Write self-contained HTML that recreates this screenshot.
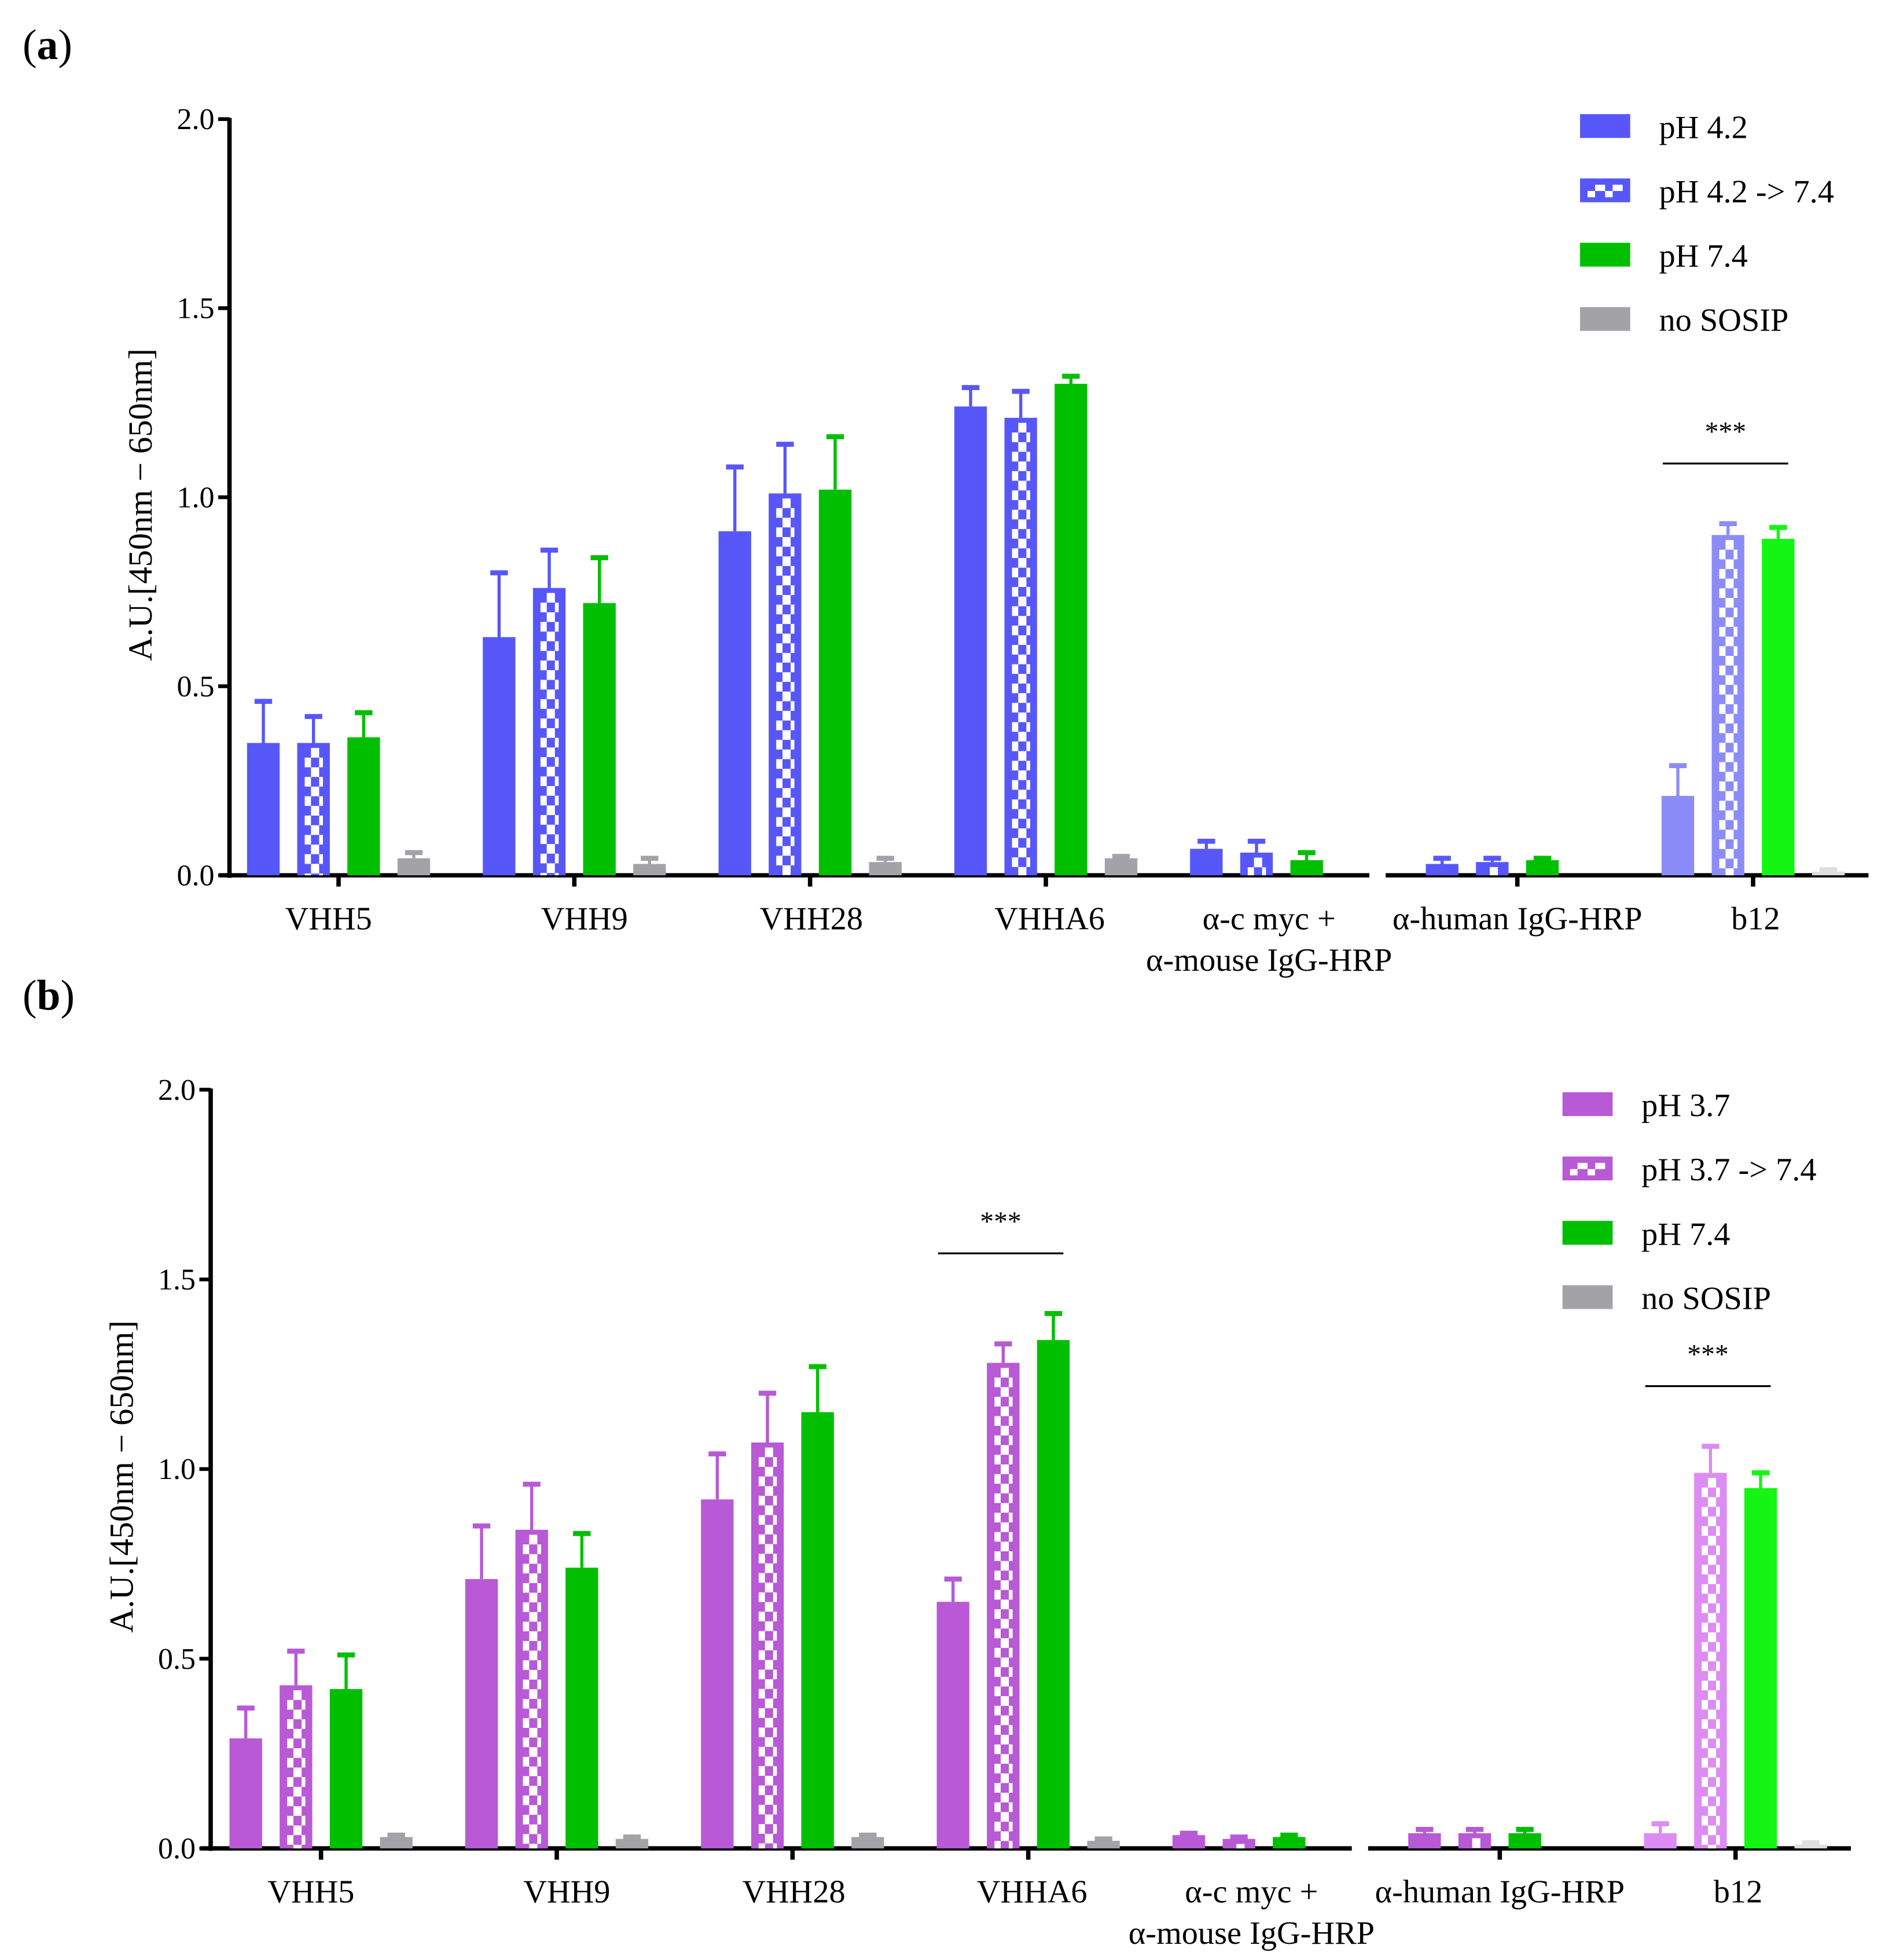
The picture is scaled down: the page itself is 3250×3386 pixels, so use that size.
<!DOCTYPE html>
<html><head><meta charset="utf-8"><style>
html,body{margin:0;padding:0;background:#fff;}
svg{display:block;}
text{font-family:"Liberation Serif",serif;fill:#000;}
</style></head><body>
<svg id="fig" xmlns="http://www.w3.org/2000/svg" width="3250" height="3386" viewBox="0 0 1500 1563" preserveAspectRatio="none">
<rect x="0" y="0" width="1500" height="1563" fill="#fff"/>
</svg>
<script>
// ---------- data ----------
const categories = ["VHH5","VHH9","VHH28","VHHA6","α-c myc +","α-human IgG-HRP","b12"];
const yTicks = [0, 0.5, 1.0, 1.5, 2.0];
const yTickLabels = ["0.0","0.5","1.0","1.5","2.0"];
const seriesNamesA = ["pH 4.2","pH 4.2 -> 7.4","pH 7.4","no SOSIP"];
const seriesNamesB = ["pH 3.7","pH 3.7 -> 7.4","pH 7.4","no SOSIP"];
// panel (a) means and upper error tops
const a_acid    = [0.35, 0.63, 0.91, 1.24, 0.07, 0.03, 0.21];
const a_acidErr = [0.46, 0.80, 1.08, 1.29, 0.09, 0.045, 0.29];
const a_rev     = [0.35, 0.76, 1.01, 1.21, 0.06, 0.035, 0.90];
const a_revErr  = [0.42, 0.86, 1.14, 1.28, 0.09, 0.045, 0.93];
const a_neu     = [0.365, 0.72, 1.02, 1.30, 0.04, 0.04, 0.89];
const a_neuErr  = [0.43, 0.84, 1.16, 1.32, 0.06, 0.045, 0.92];
const a_no      = [0.045, 0.03, 0.035, 0.045, null, null, 0.01];
const a_noErr   = [0.06, 0.045, 0.045, 0.05, null, null, 0.015];
// panel (b)
const b_acid    = [0.29, 0.71, 0.92, 0.65, 0.035, 0.04, 0.04];
const b_acidErr = [0.37, 0.85, 1.04, 0.71, 0.04, 0.05, 0.065];
const b_rev     = [0.43, 0.84, 1.07, 1.28, 0.025, 0.04, 0.99];
const b_revErr  = [0.52, 0.96, 1.20, 1.33, 0.03, 0.05, 1.06];
const b_neu     = [0.42, 0.74, 1.15, 1.34, 0.03, 0.04, 0.95];
const b_neuErr  = [0.51, 0.83, 1.27, 1.41, 0.035, 0.05, 0.99];
const b_no      = [0.03, 0.025, 0.03, 0.02, null, null, 0.01];
const b_noErr   = [0.035, 0.03, 0.035, 0.025, null, null, 0.015];
// significance: category index
const sigA = [6];
const sigB = [3, 6];

// ---------- drawing ----------
const NS = "http://www.w3.org/2000/svg";
const svg = document.getElementById("fig");
function mk(tag, attrs, parent){
  const e = document.createElementNS(NS, tag);
  for (const k in attrs) e.setAttribute(k, attrs[k]);
  (parent||svg).appendChild(e);
  return e;
}

function drawPanel(cfg){
  const g = mk("g", {});
  
  
  const yS = v => cfg.y0 - v * cfg.ppu;
  const xC = i => cfg.x0 + i * 188;
  const BW = 26, OFF = [-60, -20, 20, 60];
  const LABEL_SHIFT = [-8, 8, 1, 3, -10, 0, 2];

  // panel letter
  const pl = mk("text", {x: 18, y: cfg.letterY, "font-size": 34}, g);
  pl.textContent = "(";
  
  
  const ts = mk("tspan", {"font-weight": "bold"}, pl);
  ts.textContent = cfg.letter;
  const ts2 = mk("tspan", {}, pl);
  ts2.textContent = ")";

  // y axis
  const ya = mk("line", {x1: cfg.ax, y1: yS(2)-1, x2: cfg.ax, y2: cfg.y0+2, stroke: "#000", "stroke-width": 3.5}, g);
  
  
  yTicks.forEach((t, k) => {
    mk("line", {x1: cfg.ax-9, y1: yS(t), x2: cfg.ax, y2: yS(t), stroke: "#000", "stroke-width": 3}, g);
    const tl = mk("text", {x: cfg.ax-12, y: yS(t)+8, "font-size": 24, "text-anchor": "end"}, g);
    tl.textContent = yTickLabels[k];
    
    
  });
  const yt = mk("text", {x: 0, y: 0, "font-size": 27, "text-anchor": "middle",
    transform: `translate(${cfg.ax-62},${yS(1)+6}) rotate(-90)`}, g);
  yt.textContent = "A.U.[450nm − 650nm]";
  
  

  // x axis segments
  const xa1 = mk("line", {x1: cfg.ax-8, y1: cfg.y0, x2: xC(4)+70, y2: cfg.y0, stroke: "#000", "stroke-width": 3.5}, g);
  
  
  const xa2 = mk("line", {x1: xC(5)-105, y1: cfg.y0, x2: xC(6)+92, y2: cfg.y0, stroke: "#000", "stroke-width": 3.5}, g);
  
  

  categories.forEach((c, i) => {
    if (i !== 4) mk("line", {x1: xC(i), y1: cfg.y0, x2: xC(i), y2: cfg.y0+9, stroke: "#000", "stroke-width": 3.5}, g);
    const lx = xC(i) + LABEL_SHIFT[i];
    const cl = mk("text", {x: lx, y: cfg.y0+43, "font-size": 26, "text-anchor": "middle"}, g);
    cl.textContent = c;
    
    
    if (i === 4) {
      const c2 = mk("text", {x: lx, y: cfg.y0+76, "font-size": 26, "text-anchor": "middle"}, g);
      c2.textContent = "α-mouse IgG-HRP";
      
      
    }
  });

  // bars
  cfg.series.forEach((s, si) => {
    s.vals.forEach((v, i) => {
      if (v === null) return;
      const light = (i === 6);
      const col = light ? s.light : s.color;
      const cx = xC(i) + OFF[si];
      const x = cx - BW/2, top = yS(v), h = cfg.y0 - top;
      const et = yS(s.errs[i]);
      const eb = mk("line", {x1: cx, y1: et, x2: cx, y2: top, stroke: col, "stroke-width": 2.5}, g);
      
      
      mk("rect", {x: cx-7, y: et-2, width: 14, height: 4, fill: col}, g);
      const r = mk("rect", {x: x, y: top, width: BW, height: h, fill: col}, g);
      
      
      if (s.checked) {
        const rowH = 7.7;
        let k = 0;
        for (let yy = top + 4; yy < cfg.y0 - 0.5; yy += rowH, k++) {
          const hh = Math.min(rowH, cfg.y0 - yy);
          if (k % 2 === 0) {
            mk("rect", {x: x+11, y: yy, width: 6.5, height: hh, fill: "#fff"}, g);
          } else {
            mk("rect", {x: x+6, y: yy, width: 5, height: hh, fill: "#fff"}, g);
            mk("rect", {x: x+17.5, y: yy, width: 3, height: hh, fill: "#fff"}, g);
          }
        }
      }
    });
  });

  // significance
  cfg.sig.forEach(i => {
    const cx = xC(i) - 22;
    const top = Math.max(...cfg.series.map(s => s.errs[i] || 0));
    const ly = yS(top) - 48;
    const sl = mk("line", {x1: cx-50, y1: ly, x2: cx+50, y2: ly, stroke: "#000", "stroke-width": 1.5}, g);
    
    
    const st = mk("text", {x: cx, y: ly-18, "font-size": 22, "text-anchor": "middle"}, g);
    st.textContent = "***";
    
    
  });

  // legend
  cfg.series.forEach((s, si) => {
    const ly = cfg.legY + si * 51.3;
    const sw = mk("rect", {x: cfg.legX, y: ly-10, width: 40, height: 19, fill: s.color}, g);
    
    
    if (s.checked) {
      mk("rect", {x: cfg.legX+6, y: ly, width: 6, height: 5, fill: "#fff"}, g);
      mk("rect", {x: cfg.legX+12, y: ly-5, width: 8, height: 5, fill: "#fff"}, g);
      mk("rect", {x: cfg.legX+20, y: ly, width: 6, height: 5, fill: "#fff"}, g);
      mk("rect", {x: cfg.legX+26, y: ly-5, width: 8, height: 5, fill: "#fff"}, g);
    }
    const lt = mk("text", {x: cfg.legX+63, y: ly+9, "font-size": 26}, g);
    lt.textContent = cfg.names[si];
    
    
  });
}

drawPanel({
  name: "panel-a", short: "a", letter: "a", letterY: 47,
  ax: 183, y0: 698, ppu: 301.5, x0: 270, legX: 1260, legY: 101, names: seriesNamesA, sig: sigA,
  series: [
    {vals: a_acid, errs: a_acidErr, color: "#5757f9", light: "#8c8cf9", checked: false},
    {vals: a_rev,  errs: a_revErr,  color: "#5757f9", light: "#8c8cf9", checked: true},
    {vals: a_neu,  errs: a_neuErr,  color: "#00bf00", light: "#14f514", checked: false},
    {vals: a_no,   errs: a_noErr,   color: "#a3a3a7", light: "#dedede", checked: false}
  ]
});
drawPanel({
  name: "panel-b", short: "b", letter: "b", letterY: 805,
  ax: 168, y0: 1474, ppu: 302.5, x0: 256, legX: 1246, legY: 881, names: seriesNamesB, sig: sigB,
  series: [
    {vals: b_acid, errs: b_acidErr, color: "#b859d6", light: "#dc8cf2", checked: false},
    {vals: b_rev,  errs: b_revErr,  color: "#b859d6", light: "#dc8cf2", checked: true},
    {vals: b_neu,  errs: b_neuErr,  color: "#00bf00", light: "#14f514", checked: false},
    {vals: b_no,   errs: b_noErr,   color: "#a3a3a7", light: "#dedede", checked: false}
  ]
});
</script>
</body></html>
